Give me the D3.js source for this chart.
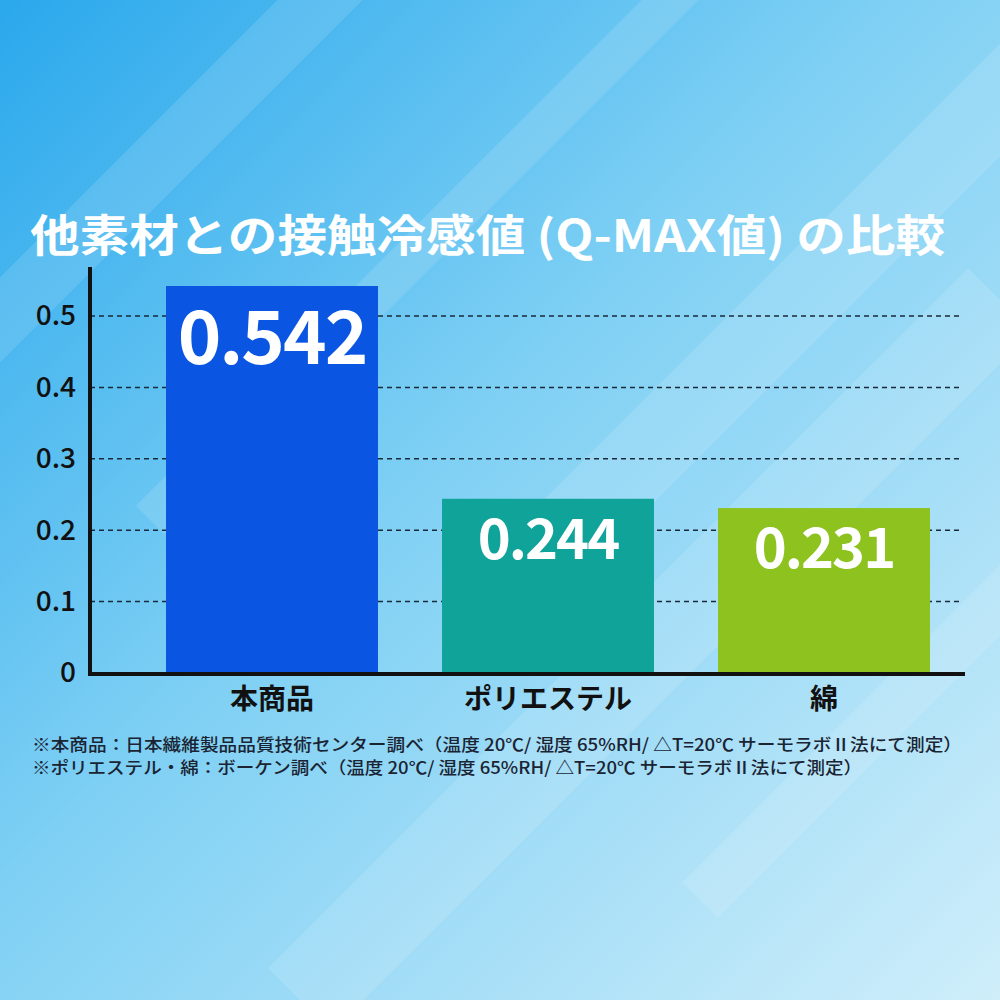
<!DOCTYPE html>
<html><head><meta charset="utf-8">
<script src="https://cdn.jsdelivr.net/npm/d3@7"></script>
<style>body{margin:0;}svg{display:block;}</style>
</head><body><div id="chart"></div>
<script>
// data
var categories = ["本商品", "ポリエステル", "綿"];
var values = [0.542, 0.244, 0.231];
var labels = ["0.542", "0.244", "0.231"];
var barColors = ["#0b55e3", "#10a399", "#8dc21f"];
var yTicks = [0, 0.1, 0.2, 0.3, 0.4, 0.5];
var notes = [
  "※本商品：日本繊維製品品質技術センター調べ（温度 20℃/ 湿度 65%RH/ △T=20℃ サーモラボⅡ法にて測定）",
  "※ポリエステル・綿：ボーケン調べ（温度 20℃/ 湿度 65%RH/ △T=20℃ サーモラボⅡ法にて測定）"
];
var noteWidths = [930, 830];

const W = 1000, H = 1000;
const font = "'Noto Sans CJK JP', 'Noto Sans', sans-serif";

var svg = d3.select("#chart").append("svg").attr("width", W).attr("height", H);
var defs = svg.append("defs");
var bg = defs.append("linearGradient").attr("id", "bg").attr("x1", 0).attr("y1", 0).attr("x2", 1).attr("y2", 1);
bg.append("stop").attr("offset", 0).attr("stop-color", "#2aa8ec");
bg.append("stop").attr("offset", 0.45).attr("stop-color", "#7fd0f4");
bg.append("stop").attr("offset", 1).attr("stop-color", "#cfeefa");
svg.append("rect").attr("width", W).attr("height", H).attr("fill", "url(#bg)");

// soft diagonal streaks
var streaks = [[-100, 420, 60], [150, 520, 40], [500, 600, 80], [700, 900, 50], [300, 1000, 90]];
svg.append("g").selectAll("path").data(streaks).join("path")
  .attr("d", d => "M" + d[0] + "," + d[1] + " l" + 700 + ",-" + 700)
  .attr("stroke", "#ffffff").attr("stroke-opacity", 0.12).attr("stroke-width", d => d[2]);

// title
svg.append("text").attr("x", 30).attr("y", 252)
  .attr("font-family", font).attr("font-weight", "bold").attr("font-size", 44)
  .attr("textLength", 915).attr("lengthAdjust", "spacingAndGlyphs")
  .attr("fill", "#fff").text("他素材との接触冷感値 (Q-MAX値) の比較");

var x = d3.scaleBand().domain(categories).range([134, 962]).paddingInner(0.232).paddingOuter(0.116);
var y = d3.scaleLinear().domain([0, 0.5]).range([673, 316]);

// grid
svg.append("g").selectAll("line").data(yTicks.slice(1)).join("line")
  .attr("x1", 90).attr("x2", 962).attr("y1", d => y(d)).attr("y2", d => y(d))
  .attr("stroke", "#1a2a3a").attr("stroke-width", 1.5).attr("stroke-dasharray", "5,4");

// bars
svg.append("g").selectAll("rect").data(values).join("rect")
  .attr("x", (d, i) => x(categories[i])).attr("width", x.bandwidth())
  .attr("y", d => y(d)).attr("height", d => y(0) - y(d))
  .attr("fill", (d, i) => barColors[i]);

svg.append("g").selectAll("text").data(values).join("text")
  .attr("x", (d, i) => x(categories[i]) + x.bandwidth() / 2)
  .attr("y", (d, i) => i == 0 ? y(d) + 78 : y(d) + 60)
  .attr("text-anchor", "middle").attr("font-family", font).attr("font-weight", "bold")
  .attr("font-size", (d, i) => i == 0 ? 74 : 56).attr("letter-spacing", -2)
  .attr("fill", "#fff").text((d, i) => labels[i]);

// axes
var yAxis = d3.axisLeft(y).tickValues(yTicks).tickFormat(d => d == 0 ? "0" : d3.format(".1f")(d)).tickSize(0).tickPadding(14);
var ga = svg.append("g").attr("transform", "translate(90,0)").call(yAxis);
ga.select(".domain").remove();
ga.selectAll("text").attr("font-family", font).attr("font-size", 28).attr("font-weight", 500).attr("fill", "#111");
svg.append("line").attr("x1", 90).attr("x2", 90).attr("y1", 267).attr("y2", 675).attr("stroke", "#111").attr("stroke-width", 4);
svg.append("line").attr("x1", 88).attr("x2", 965).attr("y1", 674).attr("y2", 674).attr("stroke", "#111").attr("stroke-width", 4);

var xAxis = d3.axisBottom(x).tickSize(0).tickPadding(14);
var gx = svg.append("g").attr("transform", "translate(0,675)").call(xAxis);
gx.select(".domain").remove();
gx.selectAll("text").attr("font-family", font).attr("font-weight", "bold").attr("font-size", 28).attr("fill", "#111");

// notes
svg.append("g").selectAll("text").data(notes).join("text")
  .attr("x", 32).attr("y", (d, i) => 751 + i * 23)
  .attr("font-family", font).attr("font-size", 17).attr("font-weight", 500)
  .attr("textLength", (d, i) => noteWidths[i]).attr("lengthAdjust", "spacingAndGlyphs")
  .attr("fill", "#1a2433").text(d => d);
</script></body></html>
